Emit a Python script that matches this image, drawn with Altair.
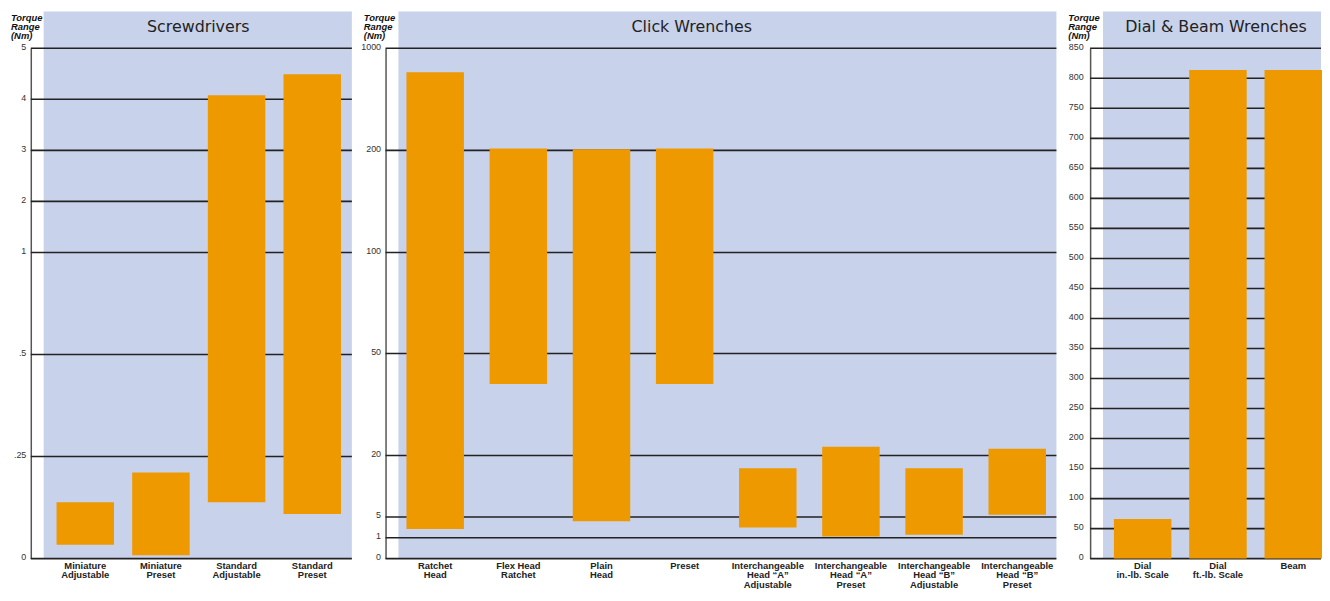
import altair as alt
import pandas as pd

BLUE = "#C8D2EB"
ORANGE = "#EE9900"
GRID = "#222222"

# ---------------- data ----------------
screw_cats = ["Miniature\nAdjustable", "Miniature\nPreset", "Standard\nAdjustable", "Standard\nPreset"]
screw_low = [0.034, 0.008, 0.138, 0.109]
screw_high = [0.138, 0.211, 4.08, 4.49]
screw_ticks = [0, 0.25, 0.5, 1, 2, 3, 4, 5]
screw_tick_labels = ["0", ".25", ".5", "1", "2", "3", "4", "5"]

click_cats = ["Ratchet\nHead", "Flex Head\nRatchet", "Plain\nHead", "Preset",
              "Interchangeable\nHead \u201cA\u201d\nAdjustable", "Interchangeable\nHead \u201cA\u201d\nPreset",
              "Interchangeable\nHead \u201cB\u201d\nAdjustable", "Interchangeable\nHead \u201cB\u201d\nPreset"]
click_low = [2.7, 41, 4.2, 41, 3.0, 1.25, 1.6, 5.56]
click_high = [813, 215, 208, 215, 16.9, 22.6, 16.9, 22.0]
click_ticks = [0, 1, 5, 20, 50, 100, 200, 1000]
click_tick_labels = ["0", "1", "5", "20", "50", "100", "200", "1000"]

dial_cats = ["Dial\nin.-lb. Scale", "Dial\nft.-lb. Scale", "Beam"]
dial_low = [0, 0, 0]
dial_high = [66, 814, 814]
dial_ticks = [0, 50, 100, 150, 200, 250, 300, 350, 400, 450, 500, 550, 600, 650, 700, 750, 800, 850]
dial_tick_labels = ["0", "50", "100", "150", "200", "250", "300", "350", "400", "450",
                    "500", "550", "600", "650", "700", "750", "800", "850"]

titles = ["Screwdrivers", "Click Wrenches", "Dial & Beam Wrenches"]
axis_title = "Torque\nRange\n(Nm)"

# ---------------- layout ----------------
H = 515
screw_range = [515, 412, 309, 206, 154.5, 103, 51.5, 0]
click_range = [515, 494, 473, 411, 308, 206, 103, 0]


def label_expr(vals, labels):
    expr = "datum.label"
    for v, l in reversed(list(zip(vals, labels))):
        expr = f"datum.value == {v} ? '{l}' : ({expr})"
    return expr


def panel(title, title_x, cats, low, high, ticks, tick_labels, yscale, xrange,
          width, plot_w, label_pad, torque_x):
    df = pd.DataFrame({"cat": cats, "low": low, "high": high})
    grid = pd.DataFrame({"v": ticks})
    one = alt.Data(values=[{"a": 1}])

    yaxis = alt.Axis(title=None, values=ticks, grid=False, ticks=False,
                     domainColor="#555555", domainWidth=1.5,
                     labelExpr=label_expr(ticks, tick_labels),
                     labelFont="Liberation Sans", labelFontSize=9,
                     labelColor="#333333", labelPadding=label_pad,
                     labelBaseline="middle", labelOffset=-2,
                     labelOverlap=False, labelFlush=False)

    bg = alt.Chart(one).mark_rect(color=BLUE).encode(
        x=alt.value(13), x2=alt.value(plot_w), y=alt.value(-37), y2=alt.value(H)
    )
    rules = alt.Chart(grid).mark_rule(color=GRID, strokeWidth=1.6).encode(
        y=alt.Y("v:Q", scale=yscale, axis=yaxis),
        x=alt.value(0), x2=alt.value(plot_w),
    )
    bars = alt.Chart(df).mark_bar(color=ORANGE, size=58).encode(
        x=alt.X("cat:N", sort=cats,
                scale=alt.Scale(range=xrange, paddingInner=0, paddingOuter=0),
                axis=alt.Axis(title=None, labelAngle=0, domain=False, ticks=False,
                              labelExpr="split(datum.label, '\\n')",
                              labelFont="Liberation Sans", labelFontSize=9.5,
                              labelFontWeight="bold", labelColor="#222222",
                              labelBaseline="top", labelPadding=2,
                              labelLineHeight=9.5, labelLimit=300)),
        y=alt.Y("low:Q", scale=yscale, axis=yaxis),
        y2="high:Q",
    )
    ttl = alt.Chart(one).mark_text(
        font="DejaVu Sans", fontSize=16, color="#222222", align="center", baseline="middle"
    ).encode(x=alt.value(title_x), y=alt.value(-21), text=alt.value(title))
    torque = alt.Chart(one).mark_text(
        font="Liberation Sans", fontSize=9.5, fontStyle="italic", fontWeight="bold",
        color="#111111", align="left", baseline="top", lineBreak="\n", lineHeight=9.5
    ).encode(x=alt.value(torque_x), y=alt.value(-36), text=alt.value(axis_title))
    return alt.layer(bg, rules, bars, ttl, torque).properties(width=width, height=H)


p1 = panel(titles[0], 169, screw_cats, screw_low, screw_high, screw_ticks, screw_tick_labels,
           alt.Scale(domain=screw_ticks, range=screw_range), [16.8, 322.2],
           324, 324, 5, -20)
p2 = panel(titles[1], 309, click_cats, click_low, click_high, click_ticks, click_tick_labels,
           alt.Scale(domain=click_ticks, range=click_range), [8.15, 679.4],
           681, 677, 5, -22)
p3 = panel(titles[2], 127, dial_cats, dial_low, dial_high, dial_ticks, dial_tick_labels,
           alt.Scale(domain=[0, 850], range=[H, 0]), [15, 243],
           233, 233, 7, -22)

chart = alt.hconcat(p1, p2, p3, spacing=7).properties(
    padding={"left": 3, "top": 1, "right": 0, "bottom": -3},
    background="white",
).configure_view(stroke=None)

chart.save("out.html", embed_options={"renderer": "svg", "actions": False})
